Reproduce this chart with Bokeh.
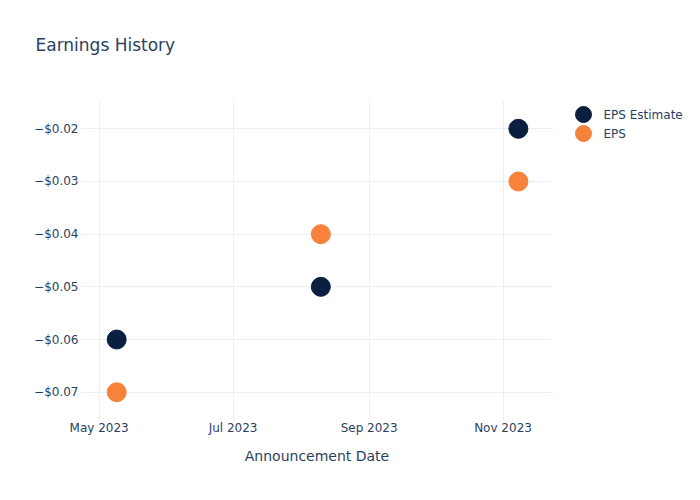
from datetime import datetime
from bokeh.plotting import figure
from bokeh.layouts import row, column
from bokeh.models import (ColumnDataSource, FixedTicker, CustomJSTickFormatter, Range1d)
from bokeh.core.properties import value
from bokeh.embed import file_html
from bokeh.resources import INLINE

# ---- data ----
title_text = "Earnings History"
dates = [datetime(2023, 5, 9), datetime(2023, 8, 10), datetime(2023, 11, 8)]
eps_estimate = [-0.06, -0.05, -0.02]
eps_actual = [-0.07, -0.04, -0.03]
series_names = ["EPS Estimate", "EPS"]
series_colors = ["#0b1f41", "#f7823a"]
x_tick_dates = [datetime(2023, 5, 1), datetime(2023, 7, 1), datetime(2023, 9, 1), datetime(2023, 11, 1)]
x_tick_labels = ["May 2023", "Jul 2023", "Sep 2023", "Nov 2023"]
y_ticks = [-0.07, -0.06, -0.05, -0.04, -0.03, -0.02]

FONT = "DejaVu Sans"
TXT = "#2a3f5f"
GRID = "#ebf0f8"

def ms(d):
    return (d - datetime(1970, 1, 1)).total_seconds() * 1000.0

def blank_fig(w, h):
    f = figure(frame_width=w, frame_height=h, output_backend="svg", toolbar_location=None,
               x_axis_location=None, y_axis_location=None, title=None,
               x_range=Range1d(0, w), y_range=Range1d(h, 0),
               min_border=0, min_border_left=0, min_border_right=0,
               min_border_top=0, min_border_bottom=0)
    f.grid.visible = False
    f.outline_line_color = None
    f.background_fill_color = "white"
    f.border_fill_color = "white"
    return f

# ---- title strip ----
tf = blank_fig(700, 100)
tf.text(x=[35], y=[44], text=[title_text], text_font=value(FONT), text_font_size="17px",
        text_color=TXT, text_align="left", text_baseline="middle")

# ---- main chart ----
p = figure(width=553, height=400, output_backend="svg", toolbar_location=None,
           x_axis_type="datetime",
           x_range=Range1d(datetime(2023, 4, 22, 12), datetime(2023, 11, 24)),
           y_range=Range1d(-0.07537, -0.01463),
           min_border_left=80, min_border_right=0, min_border_top=0, min_border_bottom=80)
p.outline_line_color = None
p.background_fill_color = "white"
p.border_fill_color = "white"

src = ColumnDataSource(dict(x=dates, est=eps_estimate, act=eps_actual))
p.scatter("x", "est", source=src, size=19, fill_color=series_colors[0], line_color=series_colors[0])
p.scatter("x", "act", source=src, size=19, fill_color=series_colors[1], line_color=series_colors[1])

xa = p.xaxis[0]
xa.ticker = FixedTicker(ticks=[ms(d) for d in x_tick_dates])
xa.major_label_overrides = {ms(d): lbl for d, lbl in zip(x_tick_dates, x_tick_labels)}
xa.axis_label = "Announcement Date"
ya = p.yaxis[0]
ya.ticker = FixedTicker(ticks=y_ticks)
ya.formatter = CustomJSTickFormatter(code="""
    const v = Math.round(tick * 100) / 100;
    return (v < 0 ? "\u2212" : "") + "$" + Math.abs(v).toFixed(2);
""")
for ax in (xa, ya):
    ax.axis_line_color = None
    ax.major_tick_line_color = None
    ax.minor_tick_line_color = None
    ax.major_tick_out = 0
    ax.major_tick_in = 0
    ax.major_label_text_font = FONT
    ax.major_label_text_font_size = "12px"
    ax.major_label_text_color = TXT
    ax.axis_label_text_font = FONT
    ax.axis_label_text_font_size = "14px"
    ax.axis_label_text_font_style = "normal"
    ax.axis_label_text_color = TXT
xa.major_label_standoff = 0
xa.axis_label_standoff = 10
ya.major_label_standoff = 2

p.xgrid.grid_line_color = GRID
p.ygrid.grid_line_color = GRID

# ---- legend strip ----
lf = blank_fig(147, 400)
leg_src = ColumnDataSource(dict(x=[30, 30], y=[14, 33], tx=[50, 50],
                                name=series_names, color=series_colors))
lf.scatter("x", "y", source=leg_src, size=16, fill_color="color", line_color="color")
lf.text("tx", "y", text="name", source=leg_src, text_font=value(FONT), text_font_size="12px",
        text_color=TXT, text_align="left", text_baseline="middle")

layout = column(tf, row(p, lf, spacing=0), spacing=0)
open("out.html", "w").write(file_html(layout, INLINE))
